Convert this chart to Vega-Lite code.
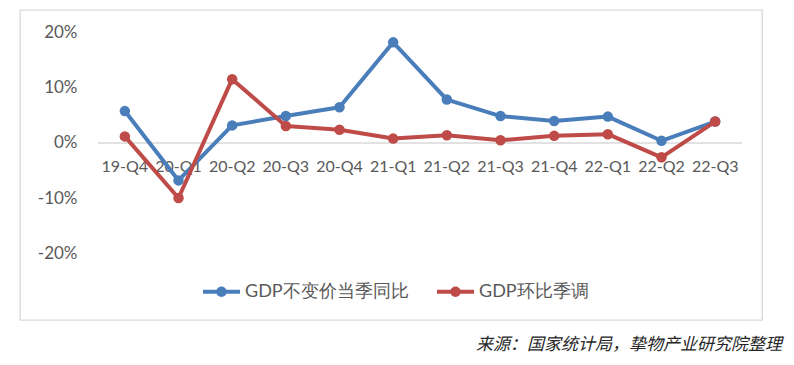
{
  "$schema": "https://vega.github.io/schema/vega-lite/v6.json",
  "width": 742,
  "height": 310,
  "autosize": "none",
  "padding": {"left": 20, "top": 10, "right": 32, "bottom": 45},
  "background": "white",
  "config": {"view": {"stroke": "#d9d9d9", "strokeWidth": 1.3}, "font": "Lato"},
  "title": {"text": "来源：国家统计局，挚物产业研究院整理", "orient": "bottom", "anchor": "end", "font": "Noto Sans CJK SC", "fontStyle": "italic", "fontSize": 17, "fontWeight": "normal", "color": "#262626", "offset": 17, "dx": 20},
  "data": {"values": [
    {"q": "19-Q4", "series": "GDP不变价当季同比", "v": 0.058},
    {"q": "20-Q1", "series": "GDP不变价当季同比", "v": -0.068},
    {"q": "20-Q2", "series": "GDP不变价当季同比", "v": 0.032},
    {"q": "20-Q3", "series": "GDP不变价当季同比", "v": 0.049},
    {"q": "20-Q4", "series": "GDP不变价当季同比", "v": 0.065},
    {"q": "21-Q1", "series": "GDP不变价当季同比", "v": 0.183},
    {"q": "21-Q2", "series": "GDP不变价当季同比", "v": 0.079},
    {"q": "21-Q3", "series": "GDP不变价当季同比", "v": 0.049},
    {"q": "21-Q4", "series": "GDP不变价当季同比", "v": 0.040},
    {"q": "22-Q1", "series": "GDP不变价当季同比", "v": 0.048},
    {"q": "22-Q2", "series": "GDP不变价当季同比", "v": 0.004},
    {"q": "22-Q3", "series": "GDP不变价当季同比", "v": 0.039},
    {"q": "19-Q4", "series": "GDP环比季调", "v": 0.012},
    {"q": "20-Q1", "series": "GDP环比季调", "v": -0.100},
    {"q": "20-Q2", "series": "GDP环比季调", "v": 0.116},
    {"q": "20-Q3", "series": "GDP环比季调", "v": 0.031},
    {"q": "20-Q4", "series": "GDP环比季调", "v": 0.024},
    {"q": "21-Q1", "series": "GDP环比季调", "v": 0.008},
    {"q": "21-Q2", "series": "GDP环比季调", "v": 0.014},
    {"q": "21-Q3", "series": "GDP环比季调", "v": 0.005},
    {"q": "21-Q4", "series": "GDP环比季调", "v": 0.013},
    {"q": "22-Q1", "series": "GDP环比季调", "v": 0.016},
    {"q": "22-Q2", "series": "GDP环比季调", "v": -0.026},
    {"q": "22-Q3", "series": "GDP环比季调", "v": 0.039}
  ]},
  "encoding": {
    "x": {
      "field": "q", "type": "ordinal", "bandPosition": 0.5,
      "scale": {"type": "band", "domain": ["19-Q4","20-Q1","20-Q2","20-Q3","20-Q4","21-Q1","21-Q2","21-Q3","21-Q4","22-Q1","22-Q2","22-Q3"], "paddingInner": 0, "paddingOuter": 0.913, "align": 0.796},
      "axis": {"title": null, "orient": "bottom", "offset": -177, "domain": false, "ticks": false, "labelPadding": 15, "labelAngle": 0, "labelFont": "Lato", "labelFontSize": 16, "labelColor": "#595959", "labelOverlap": false}
    },
    "y": {
      "field": "v", "type": "quantitative",
      "scale": {"domain": [-0.3218, 0.2418], "nice": false, "zero": false},
      "axis": {"title": null, "values": [-0.2, -0.1, 0, 0.1, 0.2], "format": ".0%", "labelExpr": "replace(datum.label, '\u2212', '-')", "grid": false, "domain": false, "ticks": false, "offset": -57, "labelPadding": 0, "labelFont": "Lato", "labelFontSize": 17, "labelColor": "#595959"}
    }
  },
  "layer": [
    {
      "data": {"values": [{"start": "19-Q4", "end": "22-Q3", "v": 0}]},
      "mark": {"type": "rule", "color": "#d9d9d9", "strokeWidth": 1.5},
      "encoding": {
        "x": {"field": "start", "type": "ordinal", "bandPosition": 0},
        "x2": {"field": "end", "bandPosition": 1},
        "y": {"field": "v", "type": "quantitative"}
      }
    },
    {
      "transform": [{"filter": "datum.series === 'GDP不变价当季同比'"}],
      "mark": {"type": "line", "strokeWidth": 4, "strokeJoin": "round", "strokeCap": "round", "point": {"filled": true, "size": 110}},
      "encoding": {
        "color": {"field": "series", "type": "nominal",
          "scale": {"domain": ["GDP不变价当季同比", "GDP环比季调"], "range": ["#4a7ebb", "#be4b48"]},
          "legend": {"orient": "none", "legendX": 183, "legendY": 263, "direction": "horizontal", "title": null,
            "symbolType": "M-1,-0.11H1V0.11H-1Z M-0.28,0A0.28,0.28 0 1,1 0.28,0A0.28,0.28 0 1,1 -0.28,0Z",
            "symbolSize": 1369, "symbolStrokeWidth": 0, "labelFontSize": 18, "labelFont": "Lato", "labelColor": "#595959", "labelOffset": 5, "labelLimit": 400, "columnPadding": 28, "padding": 0,
            "encode": {"symbols": {"update": {"fill": {"scale": "color", "field": "value"}, "stroke": {"value": "transparent"}}}}}
        }
      }
    },
    {
      "transform": [{"filter": "datum.series === 'GDP环比季调'"}],
      "mark": {"type": "line", "strokeWidth": 4, "strokeJoin": "round", "strokeCap": "round", "point": {"filled": true, "size": 110}},
      "encoding": {
        "color": {"field": "series", "type": "nominal"}
      }
    }
  ]
}
